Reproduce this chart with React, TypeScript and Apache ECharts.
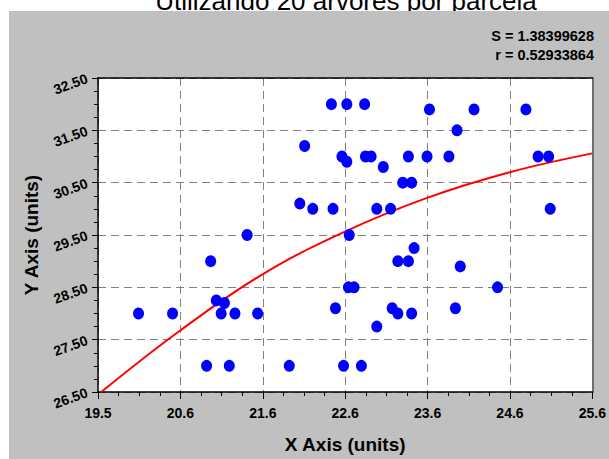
import React, { useEffect, useRef } from "react";
import * as echarts from "echarts";

const titleText = "Utilizando 20 árvores por parcela";
const statLines = ["S = 1.38399628", "r = 0.52933864"];
const xAxisName = "X Axis (units)";
const yAxisName = "Y Axis (units)";

const xTickLabels = ["19.5", "20.6", "21.6", "22.6", "23.6", "24.6", "25.6"];
const yTickLabels = ["26.50", "27.50", "28.50", "29.50", "30.50", "31.50", "32.50"];
const xRange = [19.5, 25.6];
const yRange = [26.5, 32.5];

const pointX = [
  20.0, 20.42, 20.84, 21.12, 20.89, 20.96, 21.06, 21.02, 21.19, 21.47,
  21.34, 21.86, 21.99, 22.15, 22.4, 22.05, 22.38, 22.57, 22.51, 22.57,
  22.79, 22.8, 22.87, 23.02, 23.33, 23.56, 23.83, 23.93, 23.59, 24.14,
  24.78, 24.93, 25.06, 23.26, 23.37, 22.94, 23.11, 25.08, 22.6, 23.4,
  23.2, 23.33, 23.97, 22.59, 22.66, 24.43, 22.43, 23.13, 23.2, 23.37,
  23.91, 22.94, 22.53, 22.75,
];
const pointY = [
  28.0, 28.0, 27.0, 27.0, 29.0, 28.25, 28.2, 28.0, 28.0, 28.0,
  29.5, 27.0, 30.1, 30.0, 30.0, 31.2, 32.0, 32.0, 31.0, 30.9,
  32.0, 31.0, 31.0, 30.8, 31.0, 31.0, 31.0, 31.5, 31.9, 31.9,
  31.9, 31.0, 31.0, 30.5, 30.5, 30.0, 30.0, 30.0, 29.5, 29.25,
  29.0, 29.0, 28.9, 28.5, 28.5, 28.5, 28.1, 28.1, 28.0, 28.0,
  28.1, 27.75, 27.0, 27.0,
];

const curveX = [19.54, 20.51, 21.52, 22.54, 23.56, 24.58, 25.6];
const curveY = [26.5, 27.67, 28.74, 29.56, 30.21, 30.7, 31.06];

const FONT = 'Arial, "Liberation Sans", sans-serif';

export default function App() {
  const ref = useRef<HTMLDivElement>(null);

  useEffect(() => {
    if (!ref.current) return;
    const chart = echarts.init(ref.current, null, { renderer: "svg" });

    const scatterData = pointX.map((x, i) => [x, pointY[i]]);
    const curveData = curveX.map((x, i) => [x, curveY[i]]);

    const decoX = {
      type: "value",
      min: 0,
      max: xTickLabels.length - 1,
      interval: 1,
      position: "bottom",
      axisLine: { show: true, onZero: false, lineStyle: { color: "#000", width: 1.5 } },
      axisTick: { show: true, length: 7, lineStyle: { color: "#000", width: 1 } },
      minorTick: { show: true, splitNumber: 4, length: 4, lineStyle: { color: "#000", width: 1 } },
      splitLine: { show: true, lineStyle: { color: "#808080", type: [8, 5], width: 1 } },
      axisLabel: {
        show: true,
        margin: 14,
        color: "#000",
        fontWeight: "bold",
        fontSize: 14,
        fontFamily: FONT,
        formatter: (v: number) => xTickLabels[Math.round(v)] ?? "",
      },
      name: xAxisName,
      nameLocation: "middle",
      nameGap: 43,
      nameTextStyle: { color: "#000", fontWeight: "bold", fontSize: 19, fontFamily: FONT },
    };

    const decoY = {
      type: "value",
      min: 0,
      max: yTickLabels.length - 1,
      interval: 1,
      position: "left",
      axisLine: { show: true, onZero: false, lineStyle: { color: "#000", width: 1.5 } },
      axisTick: { show: true, length: 6, lineStyle: { color: "#000", width: 1 } },
      minorTick: { show: true, splitNumber: 4, length: 4, lineStyle: { color: "#000", width: 1 } },
      splitLine: { show: true, lineStyle: { color: "#808080", type: [8, 5], width: 1 } },
      axisLabel: {
        show: true,
        margin: 11,
        rotate: 20,
        color: "#000",
        fontWeight: "bold",
        fontSize: 14,
        fontFamily: FONT,
        formatter: (v: number) => yTickLabels[Math.round(v)] ?? "",
      },
      name: yAxisName,
      nameLocation: "middle",
      nameGap: 53,
      nameTextStyle: { color: "#000", fontWeight: "bold", fontSize: 19, fontFamily: FONT },
    };

    chart.setOption({
      animation: false,
      backgroundColor: "#ffffff",
      grid: {
        left: 98,
        top: 78,
        right: 14,
        bottom: 67,
        show: true,
        backgroundColor: "#ffffff",
        borderWidth: 0,
      },
      graphic: [
        {
          type: "text",
          z: -20,
          x: 346,
          y: 1,
          style: {
            text: titleText,
            fill: "#000",
            fontSize: 26,
            fontFamily: FONT,
            align: "center",
            verticalAlign: "middle",
          },
        },
        {
          type: "rect",
          z: -10,
          silent: true,
          shape: { x: 9, y: 11, width: 600, height: 448 },
          style: { fill: "#c0c0c0" },
        },
        {
          type: "text",
          x: 594,
          y: 36,
          style: {
            text: statLines[0],
            fill: "#000",
            fontSize: 14.5,
            fontWeight: "bold",
            fontFamily: FONT,
            align: "right",
            verticalAlign: "middle",
          },
        },
        {
          type: "text",
          x: 594,
          y: 54.5,
          style: {
            text: statLines[1],
            fill: "#000",
            fontSize: 14.5,
            fontWeight: "bold",
            fontFamily: FONT,
            align: "right",
            verticalAlign: "middle",
          },
        },
      ],
      xAxis: [
        { type: "value", min: xRange[0], max: xRange[1], show: false, position: "bottom" },
        decoX,
        {
          type: "value",
          min: 0,
          max: 1,
          position: "top",
          axisLine: { show: true, onZero: false, lineStyle: { color: "#000", width: 1.5 } },
          axisTick: { show: false },
          axisLabel: { show: false },
          splitLine: { show: false },
        },
      ],
      yAxis: [
        { type: "value", min: yRange[0], max: yRange[1], show: false, position: "left" },
        decoY,
        {
          type: "value",
          min: 0,
          max: 1,
          position: "right",
          axisLine: { show: true, onZero: false, lineStyle: { color: "#6e6e6e", width: 2 } },
          axisTick: { show: false },
          axisLabel: { show: false },
          splitLine: { show: false },
        },
      ],
      series: [
        {
          type: "line",
          xAxisIndex: 0,
          yAxisIndex: 0,
          data: curveData,
          smooth: 0.4,
          showSymbol: false,
          symbol: "none",
          lineStyle: { color: "#ff0000", width: 2 },
          z: 2,
        },
        {
          type: "scatter",
          xAxisIndex: 0,
          yAxisIndex: 0,
          data: scatterData,
          symbol: "circle",
          symbolSize: [11, 12],
          itemStyle: { color: "#0000ff", opacity: 1 },
          z: 3,
        },
      ],
    });

    return () => chart.dispose();
  }, []);

  return (
    <div
      ref={ref}
      style={{ position: "absolute", left: 0, top: 0, width: 609, height: 459 }}
    />
  );
}
